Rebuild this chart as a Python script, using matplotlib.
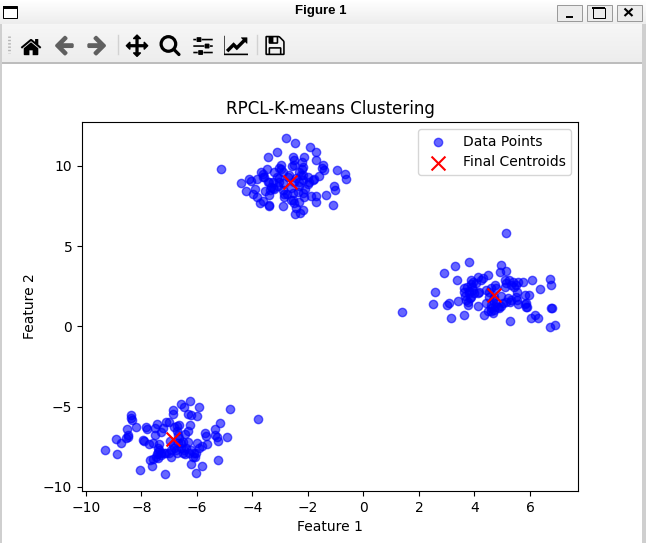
import os

import matplotlib
matplotlib.use("Agg")
import matplotlib.pyplot as plt
import numpy as np
from matplotlib import patches
from matplotlib.lines import Line2D

W, H = 646, 543

top_x = [-5.14, -2.80, -2.47, -1.93, -1.72, -3.12, -3.45, -1.72, -2.55, -2.15, -2.49, -2.23, -1.44, -1.51, -0.96,
         -0.67, -0.64, -2.98, -3.48, -3.70, -3.63, -2.98, -2.58, -2.23, -1.41, -1.59, -1.77, -4.42, -4.13, -4.06,
         -3.84, -3.59, -3.23, -3.12, -2.91, -2.19, -2.01, -2.19, -2.01, -1.07, -1.03, -1.36, -4.24, -3.92, -3.99,
         -3.84, -3.63, -3.74, -3.41, -3.39, -2.91, -1.10, -1.72, -1.72, -1.89, -2.31, -2.55, -2.49, -2.43, -2.19,
         -2.29, -2.47, -3.56, -3.41, -3.34, -3.27, -3.09, -2.91, -2.87, -2.76, -2.55, -2.19, -2.11, -2.33, -3.27,
         -3.45, -2.73, -2.43, -2.31, -3.03, -3.21, -3.36, -3.05, -2.61, -2.25, -2.52, -2.69, -2.13, -2.91, -2.37,
         -3.63, -2.31, -3.03, -2.85, -2.61, -2.49, -2.19, -3.39, -1.95, -1.83]
top_y = [9.79, 11.72, 11.41, 11.16, 10.85, 10.85, 10.54, 10.35, 10.54, 10.54, 10.37, 10.27, 10.04, 9.86, 9.73,
         9.48, 9.17, 10.04, 9.79, 9.61, 9.48, 9.79, 9.98, 9.79, 9.73, 9.40, 9.17, 8.92, 9.17, 9.09,
         9.17, 9.30, 9.61, 9.30, 9.61, 9.44, 9.30, 9.13, 8.86, 8.73, 8.48, 8.17, 8.42, 8.55, 8.24,
         8.05, 7.80, 7.67, 7.55, 7.49, 7.49, 7.55, 8.11, 7.74, 8.11, 7.74, 7.86, 7.67, 7.36, 7.24,
         7.05, 6.99, 8.42, 8.17, 8.67, 8.60, 8.73, 8.92, 8.24, 8.24, 8.30, 8.30, 8.55, 8.73, 8.98,
         9.02, 9.34, 9.23, 9.02, 9.23, 8.55, 8.50, 8.98, 8.60, 9.44, 9.02, 9.44, 8.09, 8.50, 8.40,
         9.34, 9.65, 9.90, 8.09, 7.88, 10.06, 9.96, 9.02, 9.02, 9.13]

right_x = [5.13, 1.38, 3.80, 3.29, 2.90, 3.36, 2.57, 2.50, 3.00, 3.07, 3.40, 3.15, 3.62, 4.34, 4.66, 5.27, 6.03,
           6.17, 6.28, 6.73, 6.91, 6.79, 6.75, 6.35, 6.75, 6.71, 6.07, 5.74, 4.95, 4.91, 5.13, 4.48, 4.30, 4.12,
           3.94, 3.87, 3.62, 3.72, 3.80, 3.65, 3.83, 3.76, 4.12, 4.42, 4.12, 3.98, 4.73, 4.60, 5.09, 5.14, 5.40,
           5.50, 5.09, 5.53, 5.96, 5.81, 5.56, 5.81, 5.89, 5.53, 5.27, 5.20, 4.95, 4.95, 4.73, 4.60, 4.78, 4.54,
           4.90, 4.42, 4.66, 3.76, 3.94, 4.06, 5.32, 3.82, 5.44, 5.32, 4.54, 4.78, 5.26, 5.02, 4.60, 3.92, 4.24,
           3.88, 5.50, 5.86, 3.64, 4.72, 4.48, 4.84, 3.88, 4.18, 5.14, 5.56, 3.70, 4.60, 4.72, 5.86]
right_y = [5.80, 0.88, 4.00, 3.75, 3.31, 2.88, 2.13, 1.38, 1.32, 1.44, 1.57, 0.51, 0.70, 0.70, 0.82, 0.32, 0.51,
           0.70, 0.51, -0.05, 0.07, 1.13, 1.13, 2.32, 2.56, 2.94, 2.88, 2.75, 3.81, 3.37, 3.44, 3.19, 3.00, 3.06,
           2.75, 2.63, 2.38, 2.44, 2.19, 1.88, 1.75, 1.32, 1.26, 1.44, 2.07, 2.07, 2.59, 2.38, 2.88, 2.69, 2.75,
           2.56, 2.44, 2.17, 1.94, 1.94, 1.38, 1.38, 1.19, 1.63, 1.50, 1.75, 1.88, 1.26, 1.26, 1.13, 1.44, 1.86,
           1.13, 2.27, 1.65, 1.55, 2.27, 2.69, 2.59, 2.07, 2.48, 1.65, 2.17, 2.38, 2.90, 1.44, 0.96, 2.48, 2.90,
           2.90, 1.86, 1.24, 2.17, 1.03, 0.96, 1.24, 1.86, 2.17, 1.55, 2.79, 1.65, 1.34, 1.86, 1.44]

low_x = [-9.32, -8.89, -8.93, -8.74, -8.57, -8.49, -8.53, -8.38, -8.38, -8.34, -8.20, -7.84, -7.81, -7.95, -7.92,
         -8.06, -7.63, -7.70, -7.16, -7.45, -7.45, -7.41, -7.52, -7.52, -7.74, -7.38, -7.41, -7.30, -7.02, -6.94,
         -7.12, -7.02, -6.87, -6.87, -6.58, -6.47, -6.26, -5.93, -6.33, -6.22, -6.01, -4.82, -3.81, -5.18, -5.36,
         -5.72, -5.68, -5.36, -5.29, -5.25, -4.92, -6.26, -6.33, -6.44, -6.73, -6.66, -6.73, -6.98, -6.84, -6.69,
         -6.51, -6.51, -6.73, -6.44, -6.11, -6.08, -6.22, -5.83, -6.04, -5.25, -6.01, -5.83, -5.65, -5.93, -6.15,
         -6.33, -6.57, -7.23, -7.29, -7.41, -7.59, -6.87, -6.39, -6.63, -7.11, -7.35, -6.75, -6.27, -6.03, -6.93,
         -7.57, -7.47, -7.29, -6.45, -6.57, -6.81, -6.69, -8.49, -7.17, -6.21]
low_y = [-7.72, -7.97, -7.03, -7.28, -6.97, -6.76, -6.41, -5.51, -5.72, -5.83, -6.28, -6.28, -6.41, -7.09, -7.13,
         -8.96, -8.71, -8.34, -9.21, -6.10, -7.97, -8.21, -6.76, -6.35, -7.34, -7.34, -7.59, -7.90, -7.90, -8.15,
         -5.97, -5.97, -5.22, -5.47, -4.85, -5.04, -4.66, -5.04, -5.47, -5.53, -5.60, -5.16, -5.78, -6.03, -6.41,
         -6.66, -6.84, -6.78, -6.91, -7.16, -6.91, -6.16, -6.53, -6.72, -6.22, -6.16, -6.53, -7.16, -7.59, -7.28,
         -7.18, -7.90, -7.90, -7.97, -7.90, -8.15, -8.59, -8.71, -9.15, -8.34, -7.28, -7.47, -7.34, -7.59, -8.11,
         -7.18, -7.59, -6.35, -6.55, -7.80, -7.28, -7.38, -7.59, -6.97, -7.90, -7.70, -7.70, -7.90, -7.90, -7.70,
         -8.26, -8.11, -8.01, -7.70, -7.28, -6.24, -6.76, -6.86, -7.90, -7.70]

centroid_x = [-2.65, 4.70, -6.87]
centroid_y = [8.98, 1.94, -7.03]


def fx(px):
    return px / W


def fy(py):
    # pixel rows count from the top of the window
    return 1 - py / H


def rect(x0, y0, x1, y1, **kw):
    fig.add_artist(patches.Rectangle((fx(x0), fy(y1)), (x1 - x0) / W, (y1 - y0) / H,
                                     transform=fig.transFigure, **kw))


def line(x0, y0, x1, y1, **kw):
    fig.add_artist(Line2D([fx(x0), fx(x1)], [fy(y0), fy(y1)], transform=fig.transFigure, **kw))


def band(y0, y1, start, end):
    shade = np.linspace(start, end, y1 - y0).reshape(-1, 1, 1)
    fig.figimage(np.tile(shade, (1, W, 3)), xo=0, yo=H - y1, origin="upper", zorder=-5)


fig = plt.figure(figsize=(W / 100, H / 100), dpi=100)

# window chrome
band(0, 24, 1.0, 0.93)
band(24, 62, 0.965, 0.93)
rect(0, 62, W, 63.5, fc="#bdbdbd", ec="none")
rect(642, 24, W, H, fc="#cfcfcf", ec="none")
rect(0, 24, 2, H, fc="#cfcfcf", ec="none")
rect(3, 6, 17, 18, fc="white", ec="black", lw=0.72)
rect(3, 6, 17, 8.5, fc="black", ec="none")
fig.text(fx(321), fy(11), "Figure 1", ha="center", va="center", fontsize=9.5, fontweight="bold",
         family="Liberation Sans")

for x0 in [556, 586, 616]:
    rect(x0 + 0.5, 4.5, x0 + 26, 21, fc="#ececec", ec="#9a9a9a", lw=0.72)
line(566, 16.5, 573, 16.5, color="black", lw=1.4, solid_capstyle="butt")
rect(592.5, 7.5, 604.5, 17.5, fc="none", ec="black", lw=0.72)
rect(592, 7, 605, 9, fc="black", ec="none")
line(624.5, 8.5, 632.5, 16, color="black", lw=1.5, solid_capstyle="butt")
line(632.5, 8.5, 624.5, 16, color="black", lw=1.5, solid_capstyle="butt")

# toolbar, the icons come with matplotlib
icon_dir = os.path.join(matplotlib.get_data_path(), "images")
icons = [("home", 31, 1), ("back", 64, 0.6), ("forward", 97, 0.6), ("move", 137, 1),
         ("zoom_to_rect", 170, 1), ("subplots", 203, 1), ("qt4_editor_options", 236, 1), ("filesave", 275, 1)]
for name, cx, alpha in icons:
    img = plt.imread(os.path.join(icon_dir, name + ".png"))
    fig.figimage(img, xo=cx - img.shape[1] // 2, yo=H - 45 - img.shape[0] // 2, origin="upper", alpha=alpha, zorder=5)
line(8.5, 36, 8.5, 53, color="#b5b5b5", lw=2, linestyle=(0, (0.5, 0.7)))
line(117.5, 35, 117.5, 54, color="#d2d2d2", lw=1)
line(256.5, 35, 256.5, 54, color="#d2d2d2", lw=1)

# the chart
ax = fig.add_axes([82 / W, 1 - 491 / H, (578 - 82) / W, (491 - 122) / H])
ax.scatter(top_x + right_x + low_x, top_y + right_y + low_y, c="blue", alpha=0.6, label="Data Points")
ax.scatter(centroid_x, centroid_y, c="red", marker="x", s=100, label="Final Centroids")
ax.set_xlim(-10.14, 7.73)
ax.set_ylim(-10.25, 12.74)
ax.set_title("RPCL-K-means Clustering")
ax.set_xlabel("Feature 1")
ax.set_ylabel("Feature 2")
ax.legend(loc="upper right")

fig.savefig("out.png", dpi=100)
